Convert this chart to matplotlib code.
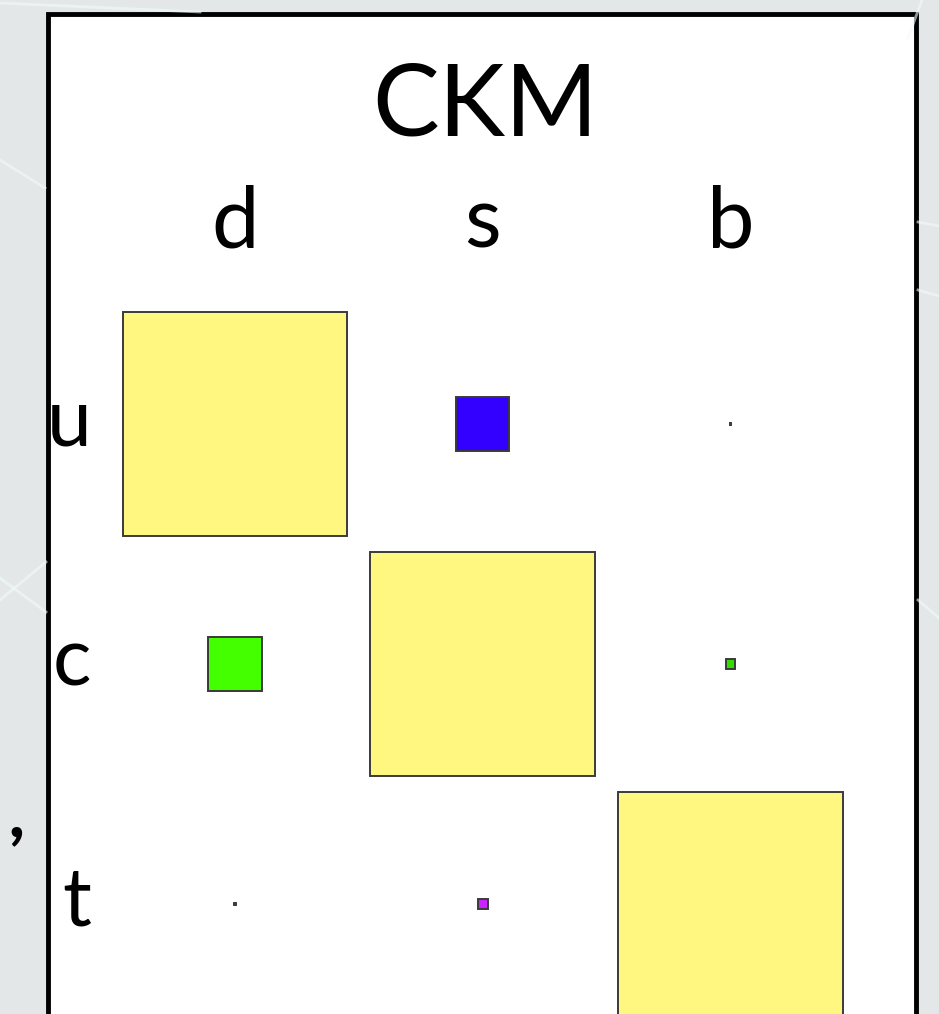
import matplotlib
matplotlib.use("Agg")
import matplotlib.pyplot as plt
import matplotlib.patches as patches
from matplotlib.lines import Line2D

# CKM matrix magnitudes, rows = up-type quarks, columns = down-type quarks
down_quarks = ["d", "s", "b"]
up_quarks = ["u", "c", "t"]
ckm_u = [0.974, 0.230, 0.006]
ckm_c = [0.230, 0.974, 0.041]
ckm_t = [0.009, 0.042, 0.972]
colors_u = ["#fff780", "#3300ff", "#222222"]
colors_c = ["#44ff00", "#fff780", "#33dd00"]
colors_t = ["#222222", "#cc22ff", "#fff780"]

FONT = "Lato"
W, H = 939, 1014
fig = plt.figure(figsize=(W / 100, H / 100), dpi=100)
fig.patch.set_facecolor("#e3e7e7")

# faint streaks of the slide background
bg = fig.add_axes([0, 0, 1, 1])
bg.set_xlim(0, W)
bg.set_ylim(H, 0)
bg.axis("off")
for (x0, y0, x1, y1) in [(0, 160, 45, 188), (0, 3, 200, 12), (0, 600, 46, 562),
                         (0, 578, 46, 612), (908, 38, 922, 0), (918, 222, 939, 226),
                         (918, 290, 939, 296), (918, 600, 939, 618)]:
    bg.add_line(Line2D([x0, x1], [y0, y1], color="#f2fafa", lw=2.0, alpha=0.6))

# white panel with thick black border
panel = patches.Rectangle((47.5, 14), 868, 1100, facecolor="white", edgecolor="black",
                          lw=3.5, clip_on=False)
bg.add_patch(panel)

bg.text(485, 135, "CKM", fontsize=72, family=FONT, ha="center", va="baseline")
bg.text(16, 836, ",", fontsize=48, family=FONT, fontweight="black",
        ha="center", va="baseline")

# grid axes: column/row index -> pixel position
px_x = 247.75
px_y = 240.0
left = 235.0 - 0.5 * px_x
top = 424 - 0.5 * px_y
ax = fig.add_axes([left / W, 1 - (top + 3 * px_y) / H, 3 * px_x / W, 3 * px_y / H])
ax.set_xlim(-0.5, 2.5)
ax.set_ylim(2.5, -0.5)
ax.axis("off")

scale = 231.0  # pixels per unit magnitude
for r, (vals, cols) in enumerate(zip([ckm_u, ckm_c, ckm_t], [colors_u, colors_c, colors_t])):
    for c, (v, col) in enumerate(zip(vals, cols)):
        w = v * scale / px_x
        h = v * scale / px_y
        ax.add_patch(patches.Rectangle((c - w / 2, r - h / 2), w, h, facecolor=col,
                                       edgecolor="#3a3a3a", lw=1.4, clip_on=False))

for c, name in enumerate(down_quarks):
    ax.text(c, -0.5 - 0.235, name, fontsize=61, family=FONT,
            ha="center", va="baseline", clip_on=False)
for r, name in enumerate(up_quarks):
    ax.text(-0.5 - 0.08, r + 0.09, name, fontsize=58, family=FONT,
            ha="right", va="baseline", clip_on=False)

fig.savefig("out.png", dpi=100, facecolor=fig.get_facecolor())
